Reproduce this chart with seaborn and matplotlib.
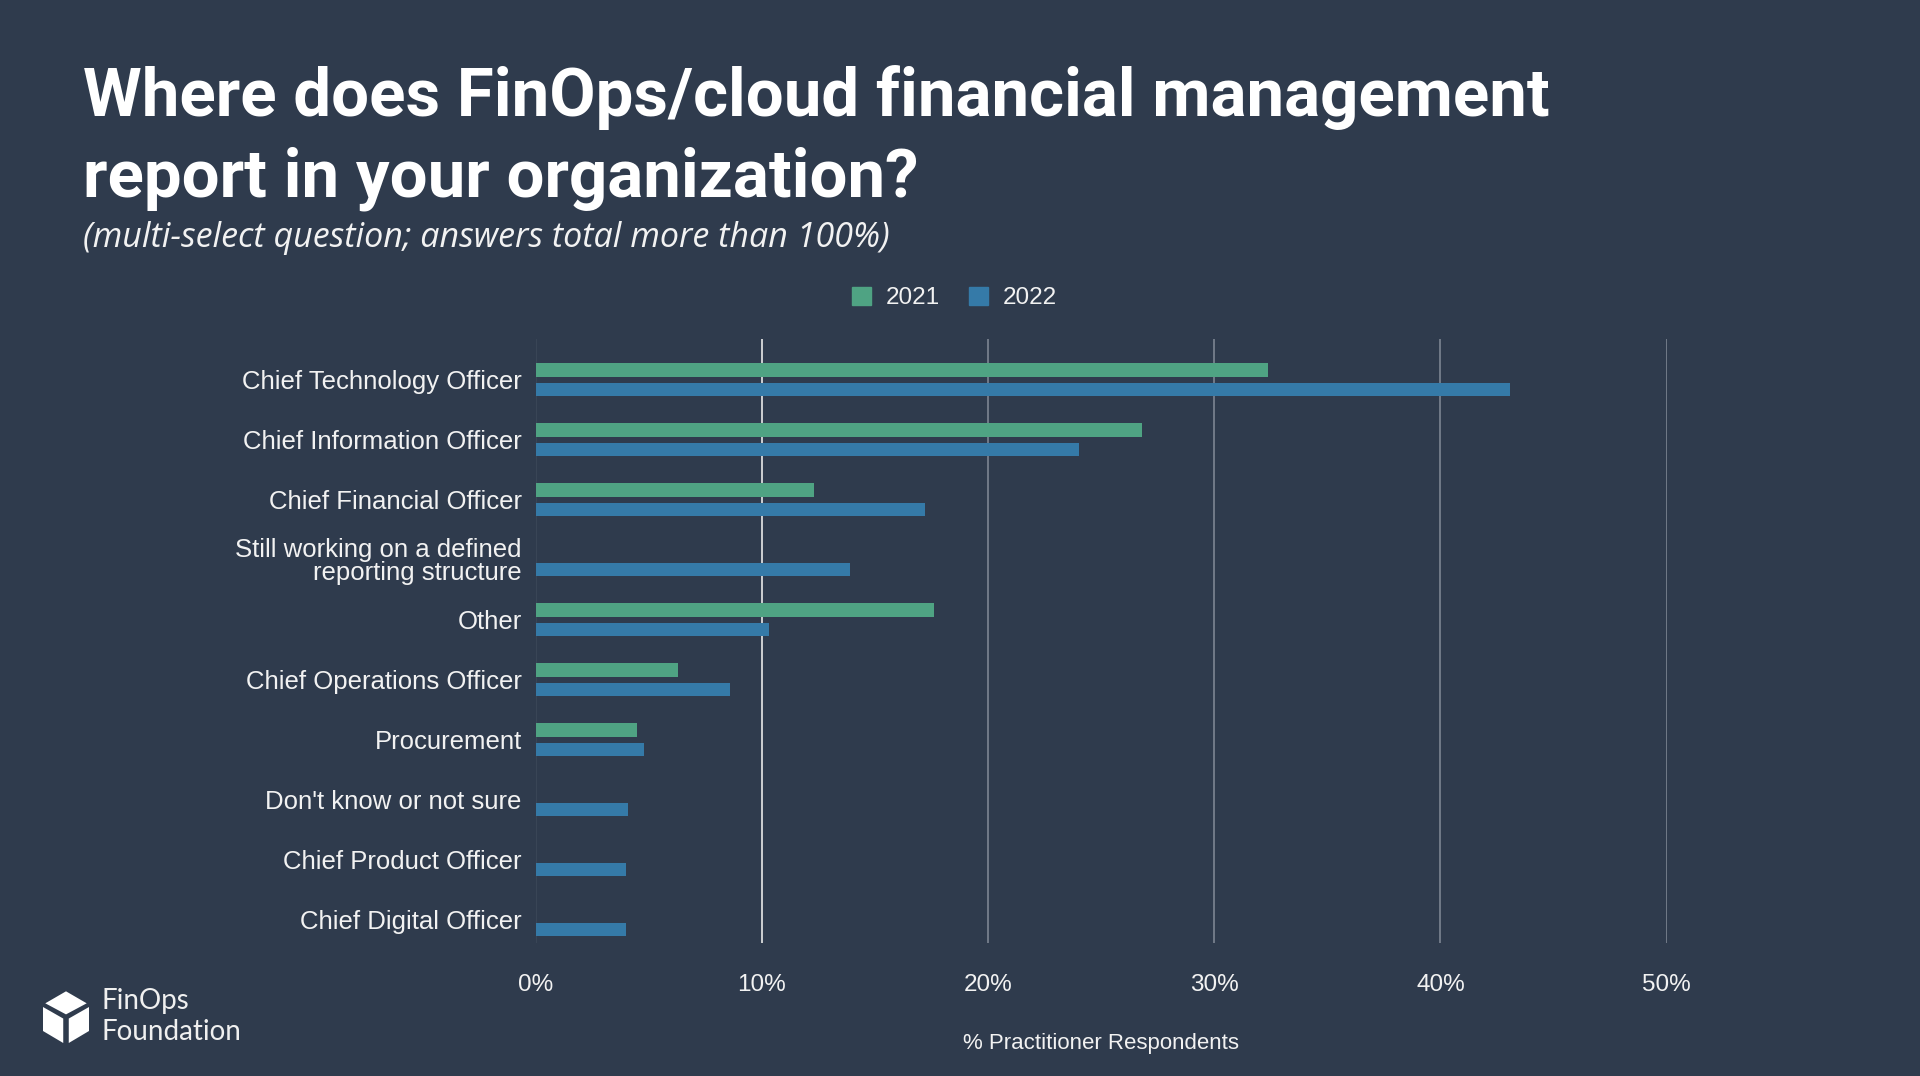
import matplotlib
matplotlib.use('Agg')
import matplotlib.pyplot as plt
import numpy as np
import pandas as pd
import seaborn as sns
from matplotlib.patches import Polygon, Patch

# data
roles = [
    'Chief Technology Officer',
    'Chief Information Officer',
    'Chief Financial Officer',
    'Still working on a defined\nreporting structure',
    'Other',
    'Chief Operations Officer',
    'Procurement',
    "Don't know or not sure",
    'Chief Product Officer',
    'Chief Digital Officer',
]
pct_2021 = [32.4, 26.8, 12.3, np.nan, 17.6, 6.3, 4.5, np.nan, np.nan, np.nan]
pct_2022 = [43.1, 24.0, 17.2, 13.9, 10.3, 8.6, 4.8, 4.1, 4.0, 4.0]
years = ['2021', '2022']
x_ticks = [0, 10, 20, 30, 40, 50]

BG = '#2f3b4d'
GREEN = '#4fa383'
BLUE = '#357aa8'
TXT = '#f2f2f2'

df = pd.DataFrame({
    'role': roles * 2,
    'year': [years[0]] * len(roles) + [years[1]] * len(roles),
    'pct': pct_2021 + pct_2022,
})

sns.set_theme(style='dark')
plt.rcParams['font.family'] = ['Liberation Sans', 'DejaVu Sans']

fig = plt.figure(figsize=(19.2, 10.76), dpi=100, facecolor=BG)
ax = fig.add_axes([0.279, 0.1236, 0.589, 0.5614])
ax.set_facecolor(BG)

sns.barplot(data=df, y='role', x='pct', hue='year', order=roles,
            hue_order=years, palette=[GREEN, BLUE], orient='h',
            width=0.65, gap=0.3, legend=False, ax=ax, saturation=1,
            linewidth=0, edgecolor='none')

ax.set_xlim(0, 50)
ax.set_ylim(len(roles) - 1 + 0.39, -0.68)
ax.set_xticks(x_ticks)
ax.set_xticklabels([f'{t}%' for t in x_ticks])
ax.tick_params(axis='x', colors=TXT, labelsize=17.5, pad=22, length=0)
ax.tick_params(axis='y', colors=TXT, labelsize=18.5, pad=10, length=0)
for lbl in ax.get_yticklabels():
    lbl.set_linespacing(0.95)
ax.set_ylabel('')
ax.set_xlabel('% Practitioner Respondents', color=TXT, fontsize=16, labelpad=27)

ax.grid(axis='x', color='#7d8592', lw=1.2)
ax.grid(axis='y', visible=False)
ax.set_axisbelow(True)
ax.get_xgridlines()[0].set_color('#3c4859')
ax.get_xgridlines()[1].set_color('#e8e8e8')
for s in ax.spines.values():
    s.set_visible(False)

# legend centred on the figure
handles = [Patch(color=GREEN, label='2021'), Patch(color=BLUE, label='2022')]
fig.legend(handles=handles, loc='center', bbox_to_anchor=(0.497, 0.723), ncol=2,
           frameon=False, fontsize=17.5, labelcolor=TXT, handlelength=0.8,
           handleheight=0.8, handletextpad=0.6, columnspacing=1.2)

# titles
fig.text(0.043, 0.909, 'Where does FinOps/cloud financial management',
         color='white', fontsize=48.3, fontweight='bold', family='Roboto', va='center')
fig.text(0.043, 0.834, 'report in your organization?',
         color='white', fontsize=48.3, fontweight='bold', family='Roboto', va='center')
fig.text(0.043, 0.779, '(multi-select question; answers total more than 100%)',
         color=TXT, fontsize=24.5, style='italic', family='Open Sans', va='center')

# logo
lax = fig.add_axes([43 / 1920, 1 - 1043 / 1076, 46 / 1920, 54 / 1076])
lax.set_xlim(0, 1)
lax.set_ylim(0, 1.17)
lax.axis('off')
faces = [
    [(0.5, 1.12), (0.95, 0.86), (0.5, 0.62), (0.05, 0.86)],
    [(0.0, 0.78), (0.44, 0.53), (0.44, 0.0), (0.0, 0.26)],
    [(1.0, 0.78), (0.56, 0.53), (0.56, 0.0), (1.0, 0.26)],
]
for f in faces:
    lax.add_patch(Polygon(f, closed=True, color='white', lw=0))
fig.text(102 / 1920, 1 - 1001 / 1076, 'FinOps', color='#f0f0f0', fontsize=20,
         family='Lato', va='center')
fig.text(102 / 1920, 1 - 1032 / 1076, 'Foundation', color='#f0f0f0', fontsize=20,
         family='Lato', va='center')

fig.savefig('out.png', dpi=100, facecolor=BG)
